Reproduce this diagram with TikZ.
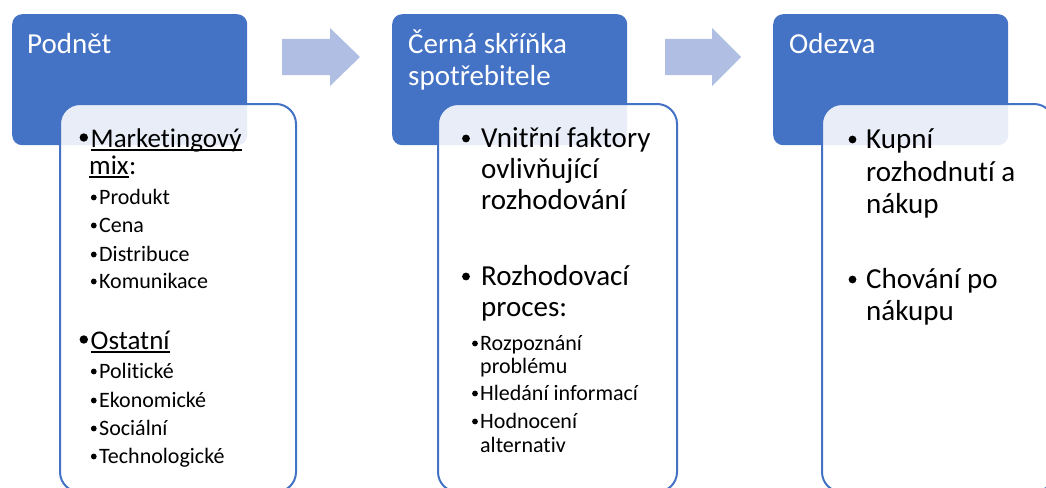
\documentclass[tikz,border=0pt]{standalone}
\usepackage{fontspec}
\setmainfont{Carlito}[Ligatures=NoCommon]
\definecolor{sblue}{HTML}{4472C4}
\definecolor{sarrow}{HTML}{AFBEE2}
\begin{document}
\begin{tikzpicture}[x=1pt,y=-1pt,
  bluebox/.style={fill=sblue, draw=none, rounded corners=10pt, anchor=north west, minimum height=131pt, minimum width=235pt, inner sep=0},
  whitebox/.style={fill=white, fill opacity=0.88, draw=sblue, line width=2pt, rounded corners=20pt},
  title/.style={inner sep=0, anchor=base west, text=white, font=\fontsize{29}{32}\selectfont},
  main/.style={inner sep=0, anchor=base west, font=\fontsize{29}{31}\selectfont},
  mainA/.style={inner sep=0, anchor=base west, font=\fontsize{27}{28}\selectfont},
  sub/.style={inner sep=0, anchor=base west, font=\fontsize{22}{24}\selectfont},
  ul/.style={draw=black, line width=1.3pt},
  blockarrow/.style={fill=sarrow, draw=none}
]
\useasboundingbox (0,0) rectangle (1046,487);
\clip (0,0) rectangle (1046,487);

% blue title boxes
\node[bluebox] (b1) at (12,14) {};
\node[bluebox] (b2) at (392,14) {};
\node[bluebox] (b3) at (773,14) {};

% white content boxes
\draw[whitebox] (60,104) rectangle (296,492);
\draw[whitebox] (438,104) rectangle (677,492);
\draw[whitebox] (822,104) rectangle (1054,492);

% block arrows
\fill[blockarrow] (282,39) -- (330,39) -- (330,28) -- (360,57) -- (330,86) -- (330,75) -- (282,75) -- cycle;
\fill[blockarrow] (665,39) -- (712,39) -- (712,28) -- (741,57) -- (712,86) -- (712,75) -- (665,75) -- cycle;

% titles
\node[title] (t1) at (27,53) {Podnět};
\node[title] (t2a) at (408,53) {Černá skříňka};
\node[title] (t2b) at (408,85) {spotřebitele};
\node[title] (t3) at (789,53) {Odezva};

% box 1
\fill (83.8,137.5) circle (4.2);
\node[mainA] (m1) at (90.5,147) {Marketingový};
\node[mainA] (m1b) at (89,174) {mix};
\node[mainA] (m1c) at (m1b.base east) {:};
\draw[ul] ([yshift=-3pt]m1.base west) -- ([yshift=-3pt]m1.base east);
\draw[ul] ([yshift=-3pt]m1b.base west) -- ([yshift=-3pt]m1b.base east);
\foreach \t/\y/\n in {Produkt/204/p1, Cena/232/p2, Distribuce/261/p3, Komunikace/288/p4,
                      Politické/378/o1, Ekonomické/407/o2, Sociální/435/o3, Technologické/463/o4} {
  \fill (93.8,\y-6.5) circle (2.9);
  \node[sub] (\n) at (99,\y) {\t};
}
\fill (83.8,339.5) circle (4.2);
\node[mainA] (m2) at (90.5,349) {Ostatní};
\draw[ul] ([yshift=-3pt]m2.base west) -- ([yshift=-3pt]m2.base east);

% box 2
\fill (466,138.5) circle (3.9);
\node[main] (v1) at (481,147) {Vnitřní faktory};
\node[main] (v2) at (481,178) {ovlivňující};
\node[main] (v3) at (481,209) {rozhodování};
\fill (466,276.5) circle (3.9);
\node[main] (r1) at (481,285) {Rozhodovací};
\node[main] (r2) at (481,316) {proces:};
\foreach \y in {350,400,428} {\fill (475,\y-6.5) circle (2.9);}
\node[sub] (q1a) at (480,350) {Rozpoznání};
\node[sub] (q1b) at (480,373) {problému};
\node[sub] (q2) at (480,400) {Hledání informací};
\node[sub] (q3a) at (480,428) {Hodnocení};
\node[sub] (q3b) at (480,452) {alternativ};

% box 3
\fill (852.5,139.5) circle (3.9);
\node[main] (k1) at (866,148) {Kupní};
\node[main] (k2) at (866,181) {rozhodnutí a};
\node[main] (k3) at (866,213) {nákup};
\fill (852.5,279.5) circle (3.9);
\node[main] (c1) at (866,288) {Chování po};
\node[main] (c2) at (866,320) {nákupu};
\end{tikzpicture}
\end{document}
